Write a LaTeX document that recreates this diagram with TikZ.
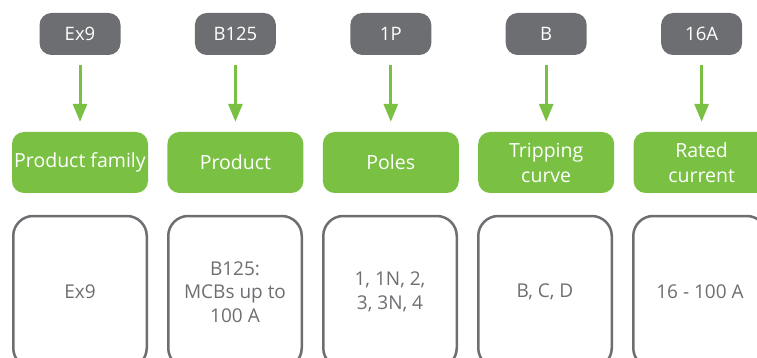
\documentclass[tikz,border=0pt]{standalone}
\usepackage{fontspec}
\setmainfont{Open Sans}
\usepackage{xcolor}
\usetikzlibrary{positioning,arrows.meta}

\definecolor{tagGray}{HTML}{6D6E71}
\definecolor{fieldGreen}{HTML}{7AC143}

\begin{document}
\begin{tikzpicture}[x=1pt,y=-1pt]
        \useasboundingbox (0,0) rectangle (757,358);

        \tikzstyle{codetag}=[fill=tagGray,text=white,rounded corners=12pt,minimum width=81pt,minimum height=42pt,inner sep=2pt,font=\fontsize{18.5}{20}\selectfont]
        \tikzstyle{field}=[fill=fieldGreen,text=white,rounded corners=12pt,minimum width=136pt,minimum height=61pt,inner sep=1pt,align=center,font=\fontsize{19.5}{25}\selectfont]
        \tikzstyle{info}=[draw=tagGray,line width=2.5pt,rounded corners=20pt,minimum width=133.5pt,minimum height=152pt,inner sep=2pt,align=center,text=tagGray,font=\fontsize{19}{23.5}\selectfont]
        \tikzstyle{pointer}=[-{Triangle[width=14pt,length=18pt]},line width=3pt,fieldGreen,shorten <=10pt,shorten >=10pt]

        %% Code tags
        \node [codetag] (tagfam) at (80,34) {Ex9};
        \node [codetag,right=74pt of tagfam] (tagprod) {B125};
        \node [codetag,right=74pt of tagprod] (tagpoles) {1P};
        \node [codetag,right=74pt of tagpoles] (tagcurve) {B};
        \node [codetag,right=74pt of tagcurve] (tagcurr) {16A};

        %% Field names
        \node [field] (fam) at (80,162.5) {Product family};
        \node [field,right=19pt of fam] (prod) {Product};
        \node [field,right=19pt of prod] (poles) {Poles};
        \node [field,right=19pt of poles] (curve) {Tripping\\curve};
        \node [field,right=19pt of curve] (curr) {Rated\\current};

        %% Values
        \node [info] (famval) at (80,292) {Ex9};
        \node [info,right=19pt of famval] (prodval) {B125:\\MCBs up to\\100 A};
        \node [info,right=19pt of prodval] (polesval) {1, 1N, 2,\\3, 3N, 4};
        \node [info,right=19pt of polesval] (curveval) {B, C, D};
        \node [info,right=19pt of curveval] (currval) {16 - 100 A};

        %% Arrows
        \draw [pointer] (tagfam) -- (fam);
        \draw [pointer] (tagprod) -- (prod);
        \draw [pointer] (tagpoles) -- (poles);
        \draw [pointer] (tagcurve) -- (curve);
        \draw [pointer] (tagcurr) -- (curr);

    \end{tikzpicture}
\end{document}
